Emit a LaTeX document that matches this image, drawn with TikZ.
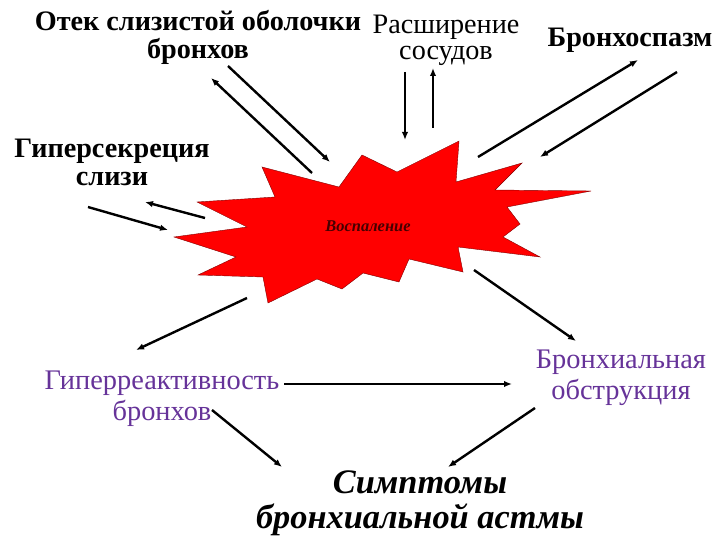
\documentclass[tikz,border=0pt]{standalone}
\usepackage{fontspec}
\setmainfont{Liberation Serif}
\usepackage{tikz}
\usetikzlibrary{arrows.meta}
\definecolor{lilac}{RGB}{102,51,153}
\definecolor{burnt}{RGB}{70,0,0}

\begin{document}
\begin{tikzpicture}[x=1bp,y=-1bp,
  arr/.style={line width=2.4bp,-{Latex[length=8bp,width=6.5bp]}},
  bold/.style={align=center,font=\fontsize{28.3}{28}\selectfont\bfseries},
  plain/.style={align=center,font=\fontsize{28.3}{26}\selectfont},
  violet/.style={align=center,text=lilac,font=\fontsize{28.5}{31}\selectfont}]
\useasboundingbox (0,0) rectangle (720,540);
% burst
\filldraw[fill=red,draw=red!50!black,thin] (262,167) -- (339,187) -- (362,155) -- (397,172)
  -- (459,141) -- (456,182) -- (522,163) -- (495,190) -- (591,191) -- (507,207)
  -- (520,224) -- (503,237) -- (540,257) -- (458,247) -- (463,272) -- (409,259)
  -- (399,282) -- (363,273) -- (342,289) -- (317,279) -- (268,303) -- (263,277)
  -- (198,275) -- (236,257) -- (174,237) -- (247,227) -- (197,202) -- (275,197) -- cycle;
\node[text=burnt,font=\fontsize{16.5}{16}\selectfont\bfseries\itshape] (infl) at (368,226) {Воспаление};
% labels
\node[bold] (otek) at (198,37) {Отек слизистой оболочки\\бронхов};
\node[plain] (vess) at (446,40) {Расширение\\сосудов};
\node[bold] (spasm) at (630,40) {Бронхоспазм};
\node[bold] (hyper) at (112,162) {Гиперсекреция\\слизи};
\node[violet] (react) at (162,399) {Гиперреактивность\\бронхов};
\node[violet] (obstr) at (621,378) {Бронхиальная\\обструкция};
\node[align=center,font=\fontsize{34.5}{35}\selectfont\bfseries\itshape] (sympt) at (420,503) {Симптомы\\бронхиальной астмы};
% arrow ends
\coordinate (o1) at (228,66);  \coordinate (o2) at (330,162);
\coordinate (o3) at (312,173); \coordinate (o4) at (211,78);
\coordinate (h1) at (205,218); \coordinate (h2) at (145,202);
\coordinate (h3) at (88,207);  \coordinate (h4) at (168,230);
\coordinate (v1) at (405,72);  \coordinate (v2) at (405,140);
\coordinate (v3) at (433,128); \coordinate (v4) at (433,68);
\coordinate (s1) at (478,157); \coordinate (s2) at (638,60);
\coordinate (s3) at (677,72);  \coordinate (s4) at (540,157);
\coordinate (b1) at (247,298); \coordinate (b2) at (136,350);
\coordinate (b3) at (474,270); \coordinate (b4) at (576,341);
\coordinate (r1) at (284,384); \coordinate (r2) at (512,384);
\coordinate (r3) at (212,410); \coordinate (r4) at (282,467);
\coordinate (q1) at (535,408); \coordinate (q2) at (448,467);
% arrows
\draw[arr] (o1) -- (o2);
\draw[arr] (o3) -- (o4);
\draw[arr] (h1) -- (h2);
\draw[arr] (h3) -- (h4);
\draw[arr] (v1) -- (v2);
\draw[arr] (v3) -- (v4);
\draw[arr] (s1) -- (s2);
\draw[arr] (s3) -- (s4);
\draw[arr] (b1) -- (b2);
\draw[arr] (b3) -- (b4);
\draw[arr,line width=1.8bp] (r1) -- (r2);
\draw[arr] (r3) -- (r4);
\draw[arr] (q1) -- (q2);
\end{tikzpicture}
\end{document}
